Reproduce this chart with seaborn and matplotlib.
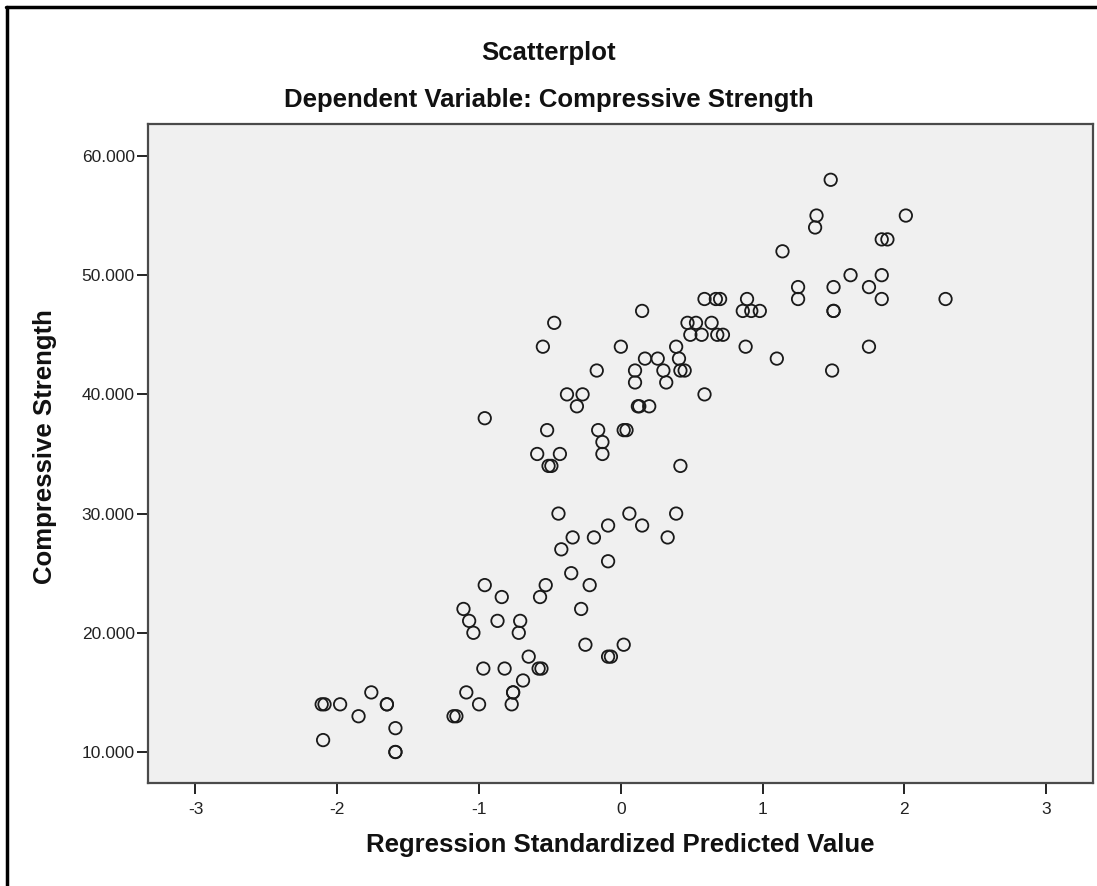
import matplotlib
matplotlib.use("Agg")
import matplotlib.pyplot as plt
import seaborn as sns
import pandas as pd
from matplotlib.lines import Line2D

# Standardized predicted values and observed compressive strength
predicted = [
    -1.59, -1.59,
    -2.10,
    -1.59,
    -1.85, -1.18, -1.16,
    -2.11, -2.09, -1.98, -1.65, -1.65, -1.00, -0.77,
    -1.76, -1.09, -0.76, -0.76,
    -0.69,
    -0.97, -0.82, -0.58, -0.56,
    -0.65, -0.09, -0.07,
    -0.25, 0.02,
    -1.04, -0.72,
    -1.07, -0.87, -0.71,
    -1.11, -0.28,
    -0.84, -0.57,
    -0.96, -0.53, -0.22,
    -0.35,
    -0.09,
    -0.42,
    -0.34, -0.19, 0.33,
    -0.09, 0.15,
    -0.44, 0.06, 0.39,
    -0.51, -0.49, 0.42,
    -0.59, -0.43, -0.13,
    -0.13,
    -0.52, -0.16, 0.02, 0.04,
    -0.96,
    -0.31, 0.12, 0.13, 0.20,
    -0.38, -0.27, 0.59,
    0.10, 0.32,
    -0.17, 0.10, 0.30, 0.42, 0.45, 1.49,
    0.17, 0.26, 0.41, 1.10,
    -0.55, 0.00, 0.39, 0.88, 1.75,
    0.49, 0.57, 0.68, 0.72,
    -0.47, 0.47, 0.53, 0.64,
    0.15, 0.86, 0.92, 0.98, 1.50, 1.50,
    0.59, 0.67, 0.70, 0.89, 1.25, 1.84, 2.29,
    1.25, 1.50, 1.75,
    1.62, 1.84,
    1.14,
    1.84, 1.88,
    1.37,
    1.38, 2.01,
    1.48,
]

strength = [
    10, 10,
    11,
    12,
    13, 13, 13,
    14, 14, 14, 14, 14, 14, 14,
    15, 15, 15, 15,
    16,
    17, 17, 17, 17,
    18, 18, 18,
    19, 19,
    20, 20,
    21, 21, 21,
    22, 22,
    23, 23,
    24, 24, 24,
    25,
    26,
    27,
    28, 28, 28,
    29, 29,
    30, 30, 30,
    34, 34, 34,
    35, 35, 35,
    36,
    37, 37, 37, 37,
    38,
    39, 39, 39, 39,
    40, 40, 40,
    41, 41,
    42, 42, 42, 42, 42, 42,
    43, 43, 43, 43,
    44, 44, 44, 44, 44,
    45, 45, 45, 45,
    46, 46, 46, 46,
    47, 47, 47, 47, 47, 47,
    48, 48, 48, 48, 48, 48, 48,
    49, 49, 49,
    50, 50,
    52,
    53, 53,
    54,
    55, 55,
    58,
]

x_ticks = [-3, -2, -1, 0, 1, 2, 3]
y_ticks = [10, 20, 30, 40, 50, 60]
y_tick_labels = ["10.000", "20.000", "30.000", "40.000", "50.000", "60.000"]

df = pd.DataFrame({"Regression Standardized Predicted Value": predicted,
                   "Compressive Strength": strength})

sns.set_theme(style="white")
plt.rcParams["font.family"] = ["Liberation Sans", "DejaVu Sans"]

fig = plt.figure(figsize=(10.97, 8.86), dpi=100)
fig.patch.set_facecolor("white")
ax = fig.add_axes([148 / 1097, 1 - 783 / 886, (1093 - 148) / 1097, (783 - 124) / 886])
ax.set_facecolor("#f0f0f0")

sns.scatterplot(data=df, x="Regression Standardized Predicted Value",
                y="Compressive Strength", ax=ax, marker="o", s=80,
                facecolor="none", edgecolor="#1a1a1a", linewidth=1.3,
                legend=False)

ax.set_xlim(-3.335, 3.33)
ax.set_ylim(7.4, 62.68)
ax.set_xticks(x_ticks)
ax.set_xticklabels([str(t) if t >= 0 else "-" + str(-t) for t in x_ticks])
ax.set_yticks(y_ticks)
ax.set_yticklabels(y_tick_labels)

for side in ["left", "bottom", "right", "top"]:
    ax.spines[side].set_visible(True)
    ax.spines[side].set_color("#4a4a4a")
    ax.spines[side].set_linewidth(1.6)

ax.tick_params(axis="both", direction="out", length=8, width=1.4,
               color="#222222", labelsize=12.5, labelcolor="#222222",
               left=True, bottom=True)
ax.tick_params(axis="y", pad=1.5)
ax.tick_params(axis="x", pad=6)

ax.set_xlabel("Regression Standardized Predicted Value", fontsize=18.5,
              fontweight="bold", color="#111111", va="center")
ax.xaxis.set_label_coords(0.5, (783 - 845) / 659)
ax.set_ylabel("Compressive Strength", fontsize=18.5, fontweight="bold",
              color="#111111", va="center")
ax.yaxis.set_label_coords((45 - 148) / 945, 0.51)

fig.text(0.5, 1 - 53 / 886, "Scatterplot", ha="center", va="center",
         fontsize=18.5, fontweight="bold", color="#111111")
fig.text(0.5, 1 - 100 / 886, "Dependent Variable: Compressive Strength",
         ha="center", va="center", fontsize=18.5, fontweight="bold",
         color="#111111")

# Outer frame of the chart window (top and left edges)
fig.add_artist(Line2D([6 / 1097, 1.0], [1 - 7 / 886, 1 - 7 / 886],
                      transform=fig.transFigure, color="black", linewidth=2.5))
fig.add_artist(Line2D([7 / 1097, 7 / 1097], [0.0, 1 - 7 / 886],
                      transform=fig.transFigure, color="black", linewidth=2.5))

fig.savefig("out.png", dpi=100)
